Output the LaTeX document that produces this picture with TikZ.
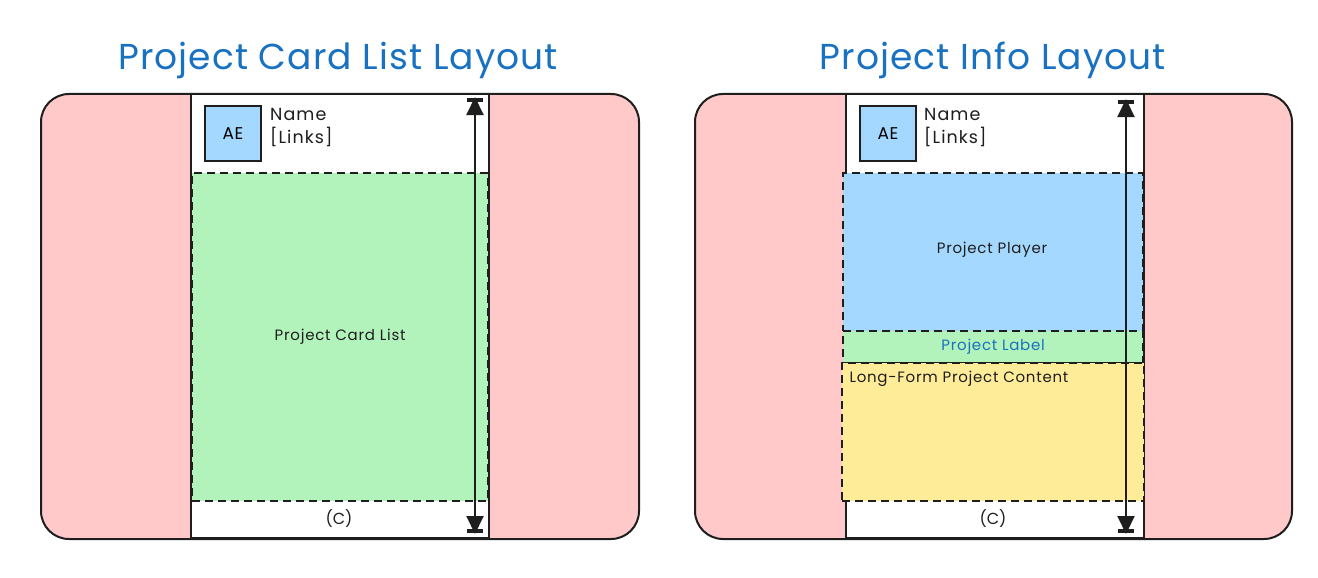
\documentclass[tikz,border=0pt]{standalone}
\usepackage{fontspec}
\setmainfont{Poppins}
\usetikzlibrary{arrows.meta}
\definecolor{pinkbg}{HTML}{FFC9C9}
\definecolor{greenbg}{HTML}{B2F2BB}
\definecolor{bluebg}{HTML}{A5D8FF}
\definecolor{yellowbg}{HTML}{FFEC99}
\definecolor{titleblue}{HTML}{1971C2}
\definecolor{ink}{HTML}{1E1E1E}
\tikzset{
  panel/.style={draw=ink, line width=2pt, fill=pinkbg, rounded corners=28pt, anchor=north west, inner sep=0pt},
  colbox/.style={draw=ink, line width=2pt, fill=white, anchor=north west, inner sep=0pt},
  zone/.style={draw=ink, line width=2.2pt, dash pattern=on 8pt off 5pt, anchor=north west, inner sep=0pt},
  avatar/.style={draw=ink, line width=2pt, fill=bluebg, anchor=north west, inner sep=0pt, minimum width=56pt, minimum height=55pt, font=\fontsize{17}{18}\selectfont\addfontfeature{LetterSpace=4}},
  title/.style={text=titleblue, font=\fontsize{36}{40}\selectfont\addfontfeature{LetterSpace=3}},
  hdrtext/.style={anchor=north west, align=left, inner sep=0pt, font=\fontsize{17.5}{23}\selectfont\addfontfeature{LetterSpace=6}, text=ink},
  lbl/.style={font=\fontsize{15}{16}\selectfont\addfontfeature{LetterSpace=5}, text=ink},
  bar/.style={draw=ink, line width=4pt},
  span/.style={draw=ink, line width=2pt, {Triangle[length=18pt,width=17pt]}-{Triangle[length=18pt,width=17pt]}},
}
\begin{document}
\begin{tikzpicture}[x=1pt,y=-1pt]
\useasboundingbox (0,0) rectangle (1318,578);

% ===== Left panel =====
\node[title] (t1) at (338,60) {Project Card List Layout};
\node[panel, minimum width=598pt, minimum height=445pt] (p1) at (40,93) {};
\node[colbox, minimum width=298pt, minimum height=444pt] (c1) at (190,93) {};
\node[zone, fill=greenbg, minimum width=296pt, minimum height=328pt] (g1) at (191,172) {};
\node[lbl] (g1t) at (g1.center) {Project Card List};
\node[avatar] (a1) at (204,105) {AE};
\node[hdrtext] (h1) at (270,108) {Name\\{[Links]}};
\node[lbl, font=\fontsize{16}{17}\selectfont] (f1) at (339,519) {(C)};
\coordinate (top1) at (475,100);
\coordinate (bot1) at (475,531);
\draw[bar] ([xshift=-8pt]top1) -- ([xshift=8pt]top1);
\draw[bar] ([xshift=-8pt]bot1) -- ([xshift=8pt]bot1);
\draw[span] ([yshift=3pt]top1) -- ([yshift=-3pt]bot1);

% ===== Right panel =====
\node[title] (t2) at (993,60) {Project Info Layout};
\node[panel, minimum width=597pt, minimum height=445pt] (p2) at (694,93) {};
\node[colbox, minimum width=298pt, minimum height=444pt] (c2) at (845,93) {};
\node[zone, fill=bluebg, minimum width=300pt, minimum height=158pt] (b2) at (842,172) {};
\node[lbl] (b2t) at (992,250) {Project Player};
\node[zone, fill=greenbg, minimum width=300pt, minimum height=32pt] (g2) at (842,330) {};
\node[lbl, text=titleblue] (g2t) at (g2.center) {Project Label};
\node[zone, fill=yellowbg, minimum width=302pt, minimum height=138pt] (y2) at (841,362) {};
\node[lbl, anchor=north west] (y2t) at (846,368) {Long-Form Project Content};
\node[avatar] (a2) at (859,105) {AE};
\node[hdrtext] (h2) at (924,108) {Name\\{[Links]}};
\node[lbl, font=\fontsize{16}{17}\selectfont] (f2) at (993,519) {(C)};
\coordinate (top2) at (1126,102);
\coordinate (bot2) at (1126,531);
\draw[bar] ([xshift=-8pt]top2) -- ([xshift=8pt]top2);
\draw[bar] ([xshift=-8pt]bot2) -- ([xshift=8pt]bot2);
\draw[span] ([yshift=3pt]top2) -- ([yshift=-3pt]bot2);
\end{tikzpicture}
\end{document}
